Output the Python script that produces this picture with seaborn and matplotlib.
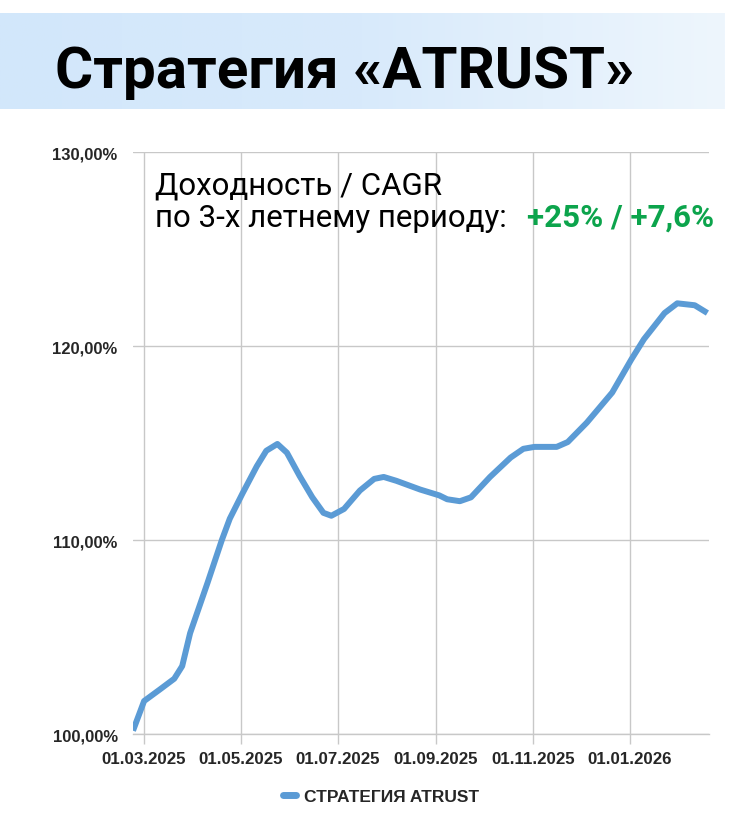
import numpy as np
import pandas as pd
import matplotlib
matplotlib.use("Agg")
import matplotlib.pyplot as plt
from matplotlib.colors import LinearSegmentedColormap
import seaborn as sns

# datos
fechas = ["2025-02-22", "2025-03-01", "2025-03-11", "2025-03-20", "2025-03-25", "2025-03-30",
          "2025-04-10", "2025-04-19", "2025-04-24", "2025-05-02", "2025-05-11", "2025-05-17",
          "2025-05-24", "2025-05-30", "2025-06-07", "2025-06-15", "2025-06-22", "2025-06-27",
          "2025-07-05", "2025-07-15", "2025-07-24", "2025-07-30", "2025-08-07", "2025-08-22",
          "2025-09-03", "2025-09-08", "2025-09-16", "2025-09-23", "2025-10-05", "2025-10-18",
          "2025-10-26", "2025-11-02", "2025-11-16", "2025-11-23", "2025-12-05", "2025-12-21",
          "2026-01-02", "2026-01-10", "2026-01-23", "2026-01-31", "2026-02-11", "2026-02-19"]
valores = [100.17, 101.7, 102.3, 102.85, 103.5, 105.2,
           107.8, 110.0, 111.1, 112.4, 113.8, 114.6,
           114.95, 114.5, 113.3, 112.2, 111.4, 111.25,
           111.6, 112.55, 113.15, 113.25, 113.05, 112.6,
           112.3, 112.1, 112.0, 112.2, 113.25, 114.25,
           114.7, 114.8, 114.8, 115.05, 116.05, 117.6,
           119.3, 120.35, 121.7, 122.2, 122.1, 121.7]

ticks_x = ["2025-03-01", "2025-05-01", "2025-07-01", "2025-09-01", "2025-11-01", "2026-01-01"]
ticks_y = [100, 110, 120, 130]
serie = "СТРАТЕГИЯ ATRUST"

df = pd.DataFrame({"fecha": pd.to_datetime(fechas), "valor": valores, "serie": serie})

sns.set_theme(style="whitegrid")
plt.rcParams['font.family'] = ['Liberation Sans', 'DejaVu Sans']

fig = plt.figure(figsize=(7.38, 8.29), dpi=100)
W, H = 738, 829

# banner del titulo con degradado
ax_b = fig.add_axes([0, 1 - 110 / H, 725 / W, 96 / H])
cmap_b = LinearSegmentedColormap.from_list("banner", ["#d2e7fb", "#d8eafb", "#eef6fd"])
ax_b.imshow(np.linspace(0, 1, 256).reshape(1, -1), aspect="auto", cmap=cmap_b, extent=[0, 1, 0, 1])
ax_b.set_axis_off()
fig.text(55 / W, 1 - 88 / H, "Стратегия «ATRUST»", fontsize=42, fontweight="bold",
         family=['Roboto', 'DejaVu Sans'], color="black", va="baseline")

ax = fig.add_axes([133 / W, 1 - 735 / H, (709 - 133) / W, (735 - 153) / H])
sns.lineplot(data=df, x="fecha", y="valor", hue="serie", palette=["#5b9bd5"], linewidth=4.3,
             legend=False, ax=ax)
for ln in ax.lines:
    ln.set_solid_joinstyle("round")
    ln.set_solid_capstyle("butt")

ax.set_xlim(pd.Timestamp("2025-02-22"), pd.Timestamp("2026-02-20"))
ax.set_ylim(100, 130)
ax.set_yticks(ticks_y)
ax.set_yticklabels([f"{v},00%" for v in ticks_y], fontsize=12, fontweight="bold")
ax.set_xticks(pd.to_datetime(ticks_x))
ax.set_xticklabels(pd.to_datetime(ticks_x).strftime("%d.%m.%Y"), fontsize=12.2, fontweight="bold")
ax.set_xlabel("")
ax.set_ylabel("")
ax.grid(True, color="#c8c8c8", linewidth=1)
ax.tick_params(axis="x", length=7, width=1, color="#c8c8c8", pad=5, bottom=True)
ax.tick_params(axis="y", length=0, pad=11)
for s in ["left", "top", "right"]:
    ax.spines[s].set_visible(False)
ax.spines["bottom"].set_color("#c8c8c8")
ax.spines["bottom"].set_linewidth(1)
ax.set_facecolor("white")

# texto de rentabilidad
fuente = ['Roboto', 'DejaVu Sans']
fig.text(155 / W, 1 - 194 / H, "Доходность / CAGR", fontsize=22.5, family=fuente,
         color="black", va="baseline")
fig.text(155 / W, 1 - 227 / H, "по 3-х летнему периоду:", fontsize=22.5, family=fuente,
         color="black", va="baseline")
fig.text(527 / W, 1 - 227 / H, "+25% / +7,6%", fontsize=22.5, fontweight="bold",
         family=fuente, color="#0ca44c", va="baseline")

# leyenda
handle = plt.Line2D([], [], color="#5b9bd5", linewidth=5)
fig.legend([handle], [serie], loc="center", bbox_to_anchor=(381 / W, 1 - 797 / H), frameon=False,
           handlelength=0.8, handletextpad=0.45, prop={"size": 12.5, "weight": "bold"})

fig.savefig("out.png", dpi=100, facecolor="white")
